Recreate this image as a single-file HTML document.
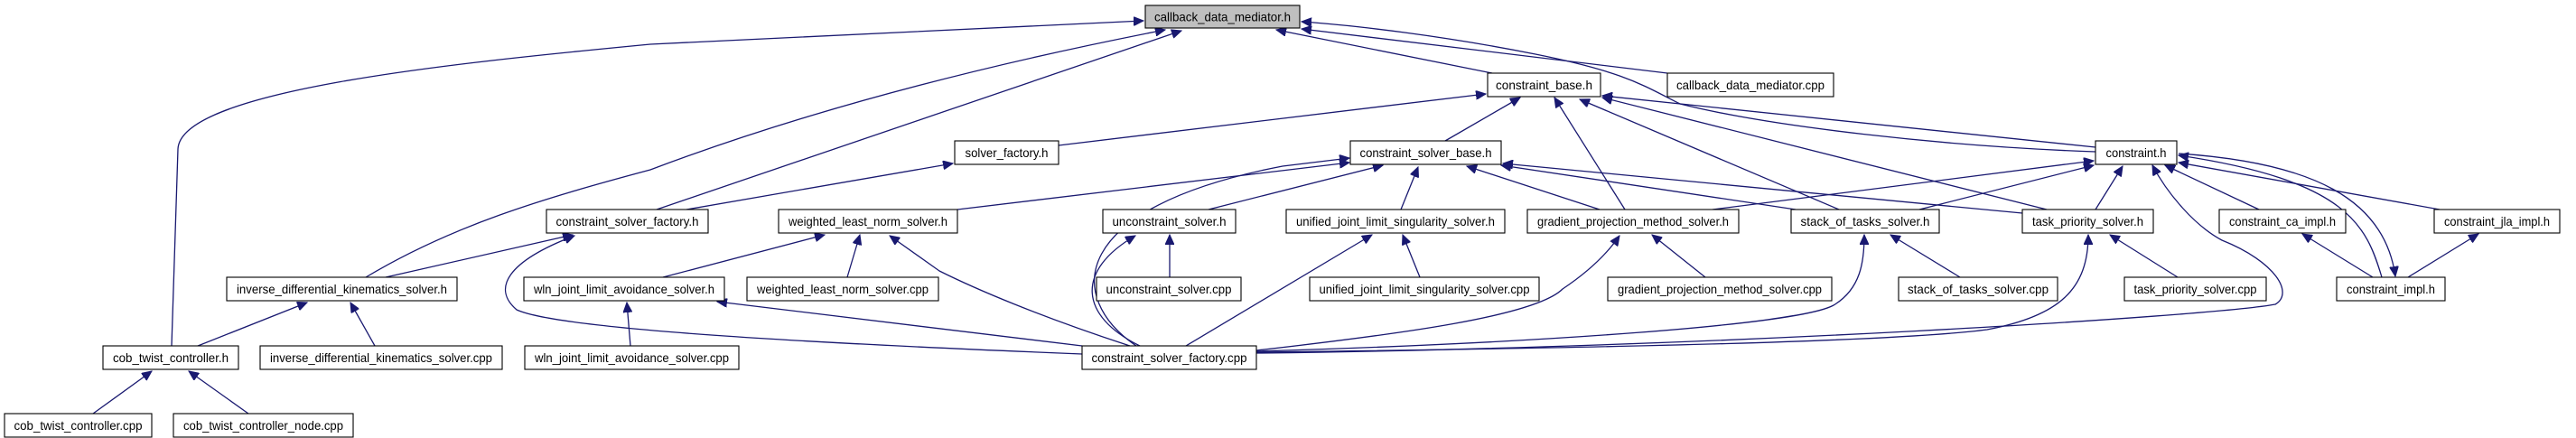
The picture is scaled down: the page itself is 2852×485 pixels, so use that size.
<!DOCTYPE html>
<html><head><meta charset="utf-8"><style>
html,body{margin:0;padding:0;background:#fff;}
svg{display:block;}
text{font-family:"Liberation Sans",sans-serif;font-size:14px;fill:#000;}
.e{fill:none;stroke:#191970;stroke-width:1.3;}
.n{fill:#fff;stroke:#000;stroke-width:1.1;}
</style></head><body>
<svg width="2852" height="485" viewBox="0 0 2852 485" xmlns="http://www.w3.org/2000/svg">
<defs>
<marker id="a" markerUnits="userSpaceOnUse" markerWidth="12" markerHeight="10" refX="11" refY="5" orient="auto">
<path d="M0,0 L11,5 L0,10 Z" fill="#191970" stroke="#191970"/>
</marker>
</defs>
<g class="e" marker-end="url(#a)">
<path d="M190,383 L197,165 C200,100 500,70 720,49 L1266,23"/>
<path d="M405,307 C500,250 600,220 720,188 C900,120 1100,70 1290,33"/>
<path d="M727,232 L1308,34"/>
<path d="M760,232 L1055,181"/>
<path d="M1172,161 L1645,104"/>
<path d="M1198,392 C900,380 620,365 572,343 C545,320 560,290 636,261"/>
<path d="M427,307 L634,260"/>
<path d="M219,383 L340,335"/>
<path d="M415,383 L388,335"/>
<path d="M103,458 L168,411"/>
<path d="M275,458 L209,411"/>
<path d="M698,383 L694,335"/>
<path d="M1198,383 L794,334"/>
<path d="M734,307 L913,260"/>
<path d="M938,307 L952,260"/>
<path d="M1251,383 C1150,350 1080,320 1040,300 L985,261"/>
<path d="M1060,232 L1494,180"/>
<path d="M1338,232 L1531,183"/>
<path d="M1295,307 L1295,260"/>
<path d="M1262,383 C1195,350 1190,300 1257,261"/>
<path d="M1258,383 C1180,330 1180,230 1420,184 L1494,175"/>
<path d="M1313,383 L1519,260"/>
<path d="M1551,232 L1570,185"/>
<path d="M1572,307 L1553,260"/>
<path d="M1391,388 C1550,370 1700,350 1730,320 C1760,300 1780,280 1793,261"/>
<path d="M1888,307 L1829,260"/>
<path d="M1771,232 L1624,184"/>
<path d="M1799,232 L1721,108"/>
<path d="M1896,232 L2318,178"/>
<path d="M2125,232 L2318,183"/>
<path d="M2036,232 L1749,110"/>
<path d="M1988,232 L1662,183"/>
<path d="M2239,236 L1664,181"/>
<path d="M2266,232 L1774,108"/>
<path d="M2320,163 L1774,106"/>
<path d="M2320,168 C2150,162 1960,140 1860,115 C1820,95 1800,80 1700,60 C1600,40 1500,28 1441,24"/>
<path d="M1846,81 L1441,32"/>
<path d="M1652,81 L1413,33"/>
<path d="M1600,156 L1683,108"/>
<path d="M1391,389 C1700,380 1990,360 2030,338 C2060,320 2064,290 2064,260"/>
<path d="M1391,390 C1800,385 2100,378 2200,365 C2280,350 2312,320 2312,260"/>
<path d="M1391,391 C1900,385 2450,350 2519,337 C2540,325 2520,290 2460,266 C2430,250 2400,215 2383,183"/>
<path d="M2170,307 L2093,260"/>
<path d="M2411,307 L2336,260"/>
<path d="M2320,232 L2350,184"/>
<path d="M2501,232 L2397,183"/>
<path d="M2701,232 L2412,180"/>
<path d="M2627,307 L2549,259"/>
<path d="M2666,307 L2744,259"/>
<path d="M2637,307 C2620,250 2600,200 2412,172"/>
<path d="M2412,170 C2560,180 2640,220 2652,306"/>
</g>
<g>
<rect x="1268" y="6" width="171" height="25" fill="#bfbfbf" stroke="#000" stroke-width="1.1"/>
<text x="1353.5" y="23.5" text-anchor="middle" textLength="151" lengthAdjust="spacingAndGlyphs">callback_data_mediator.h</text>
</g>
<g id="nodes"></g>
<g>
<rect class="n" x="1647" y="81" width="125" height="26"/><text x="1709.5" y="99" text-anchor="middle" textLength="107" lengthAdjust="spacingAndGlyphs">constraint_base.h</text>
<rect class="n" x="1846" y="81" width="184" height="26"/><text x="1938" y="99" text-anchor="middle" textLength="164" lengthAdjust="spacingAndGlyphs">callback_data_mediator.cpp</text>
<rect class="n" x="1057" y="156" width="115" height="26"/><text x="1114.5" y="174" text-anchor="middle" textLength="92" lengthAdjust="spacingAndGlyphs">solver_factory.h</text>
<rect class="n" x="1495" y="156" width="167" height="26"/><text x="1578.5" y="174" text-anchor="middle" textLength="146" lengthAdjust="spacingAndGlyphs">constraint_solver_base.h</text>
<rect class="n" x="2320" y="156" width="90" height="26"/><text x="2365" y="174" text-anchor="middle" textLength="67" lengthAdjust="spacingAndGlyphs">constraint.h</text>
<rect class="n" x="605" y="232" width="179" height="26"/><text x="694.5" y="250" text-anchor="middle" textLength="158" lengthAdjust="spacingAndGlyphs">constraint_solver_factory.h</text>
<rect class="n" x="862" y="232" width="198" height="26"/><text x="961" y="250" text-anchor="middle" textLength="176" lengthAdjust="spacingAndGlyphs">weighted_least_norm_solver.h</text>
<rect class="n" x="1221" y="232" width="147" height="26"/><text x="1294.5" y="250" text-anchor="middle" textLength="126" lengthAdjust="spacingAndGlyphs">unconstraint_solver.h</text>
<rect class="n" x="1424" y="232" width="242" height="26"/><text x="1545" y="250" text-anchor="middle" textLength="220" lengthAdjust="spacingAndGlyphs">unified_joint_limit_singularity_solver.h</text>
<rect class="n" x="1691" y="232" width="234" height="26"/><text x="1808" y="250" text-anchor="middle" textLength="212" lengthAdjust="spacingAndGlyphs">gradient_projection_method_solver.h</text>
<rect class="n" x="1983" y="232" width="164" height="26"/><text x="2065" y="250" text-anchor="middle" textLength="143" lengthAdjust="spacingAndGlyphs">stack_of_tasks_solver.h</text>
<rect class="n" x="2239" y="232" width="145" height="26"/><text x="2311.5" y="250" text-anchor="middle" textLength="123" lengthAdjust="spacingAndGlyphs">task_priority_solver.h</text>
<rect class="n" x="2457" y="232" width="140" height="26"/><text x="2527" y="250" text-anchor="middle" textLength="118" lengthAdjust="spacingAndGlyphs">constraint_ca_impl.h</text>
<rect class="n" x="2695" y="232" width="139" height="26"/><text x="2764.5" y="250" text-anchor="middle" textLength="117" lengthAdjust="spacingAndGlyphs">constraint_jla_impl.h</text>
<rect class="n" x="251" y="307" width="255" height="26"/><text x="378.5" y="325" text-anchor="middle" textLength="233" lengthAdjust="spacingAndGlyphs">inverse_differential_kinematics_solver.h</text>
<rect class="n" x="580" y="307" width="222" height="26"/><text x="691" y="325" text-anchor="middle" textLength="200" lengthAdjust="spacingAndGlyphs">wln_joint_limit_avoidance_solver.h</text>
<rect class="n" x="827" y="307" width="212" height="26"/><text x="933" y="325" text-anchor="middle" textLength="190" lengthAdjust="spacingAndGlyphs">weighted_least_norm_solver.cpp</text>
<rect class="n" x="1214" y="307" width="160" height="26"/><text x="1294" y="325" text-anchor="middle" textLength="139" lengthAdjust="spacingAndGlyphs">unconstraint_solver.cpp</text>
<rect class="n" x="1450" y="307" width="254" height="26"/><text x="1577" y="325" text-anchor="middle" textLength="233" lengthAdjust="spacingAndGlyphs">unified_joint_limit_singularity_solver.cpp</text>
<rect class="n" x="1780" y="307" width="248" height="26"/><text x="1904" y="325" text-anchor="middle" textLength="226" lengthAdjust="spacingAndGlyphs">gradient_projection_method_solver.cpp</text>
<rect class="n" x="2102" y="307" width="176" height="26"/><text x="2190" y="325" text-anchor="middle" textLength="156" lengthAdjust="spacingAndGlyphs">stack_of_tasks_solver.cpp</text>
<rect class="n" x="2352" y="307" width="157" height="26"/><text x="2430.5" y="325" text-anchor="middle" textLength="136" lengthAdjust="spacingAndGlyphs">task_priority_solver.cpp</text>
<rect class="n" x="2587" y="307" width="120" height="26"/><text x="2647" y="325" text-anchor="middle" textLength="98" lengthAdjust="spacingAndGlyphs">constraint_impl.h</text>
<rect class="n" x="114" y="383" width="150" height="26"/><text x="189" y="401" text-anchor="middle" textLength="128" lengthAdjust="spacingAndGlyphs">cob_twist_controller.h</text>
<rect class="n" x="288" y="383" width="268" height="26"/><text x="422" y="401" text-anchor="middle" textLength="246" lengthAdjust="spacingAndGlyphs">inverse_differential_kinematics_solver.cpp</text>
<rect class="n" x="581" y="383" width="237" height="26"/><text x="699.5" y="401" text-anchor="middle" textLength="215" lengthAdjust="spacingAndGlyphs">wln_joint_limit_avoidance_solver.cpp</text>
<rect class="n" x="1198" y="383" width="193" height="26"/><text x="1294.5" y="401" text-anchor="middle" textLength="172" lengthAdjust="spacingAndGlyphs">constraint_solver_factory.cpp</text>
<rect class="n" x="5" y="458" width="163" height="26"/><text x="86.5" y="476" text-anchor="middle" textLength="142" lengthAdjust="spacingAndGlyphs">cob_twist_controller.cpp</text>
<rect class="n" x="192" y="458" width="199" height="26"/><text x="291.5" y="476" text-anchor="middle" textLength="177" lengthAdjust="spacingAndGlyphs">cob_twist_controller_node.cpp</text>
</g>
</svg>
</body></html>
